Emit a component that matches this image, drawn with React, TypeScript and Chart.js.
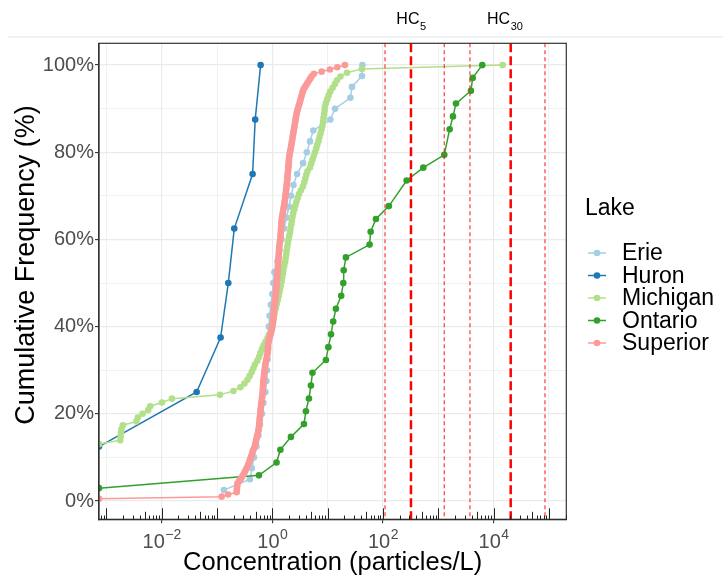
import { useEffect, useRef } from "react";
import { Chart, registerables } from "chart.js";

Chart.register(...registerables);

const FONT = "'Liberation Sans', Arial, Helvetica, sans-serif";

const lakes = ["Erie", "Huron", "Michigan", "Ontario", "Superior"];
const lakeColors = ["#A6CEE3", "#1F78B4", "#B2DF8A", "#33A02C", "#FB9A99"];

// Measured microplastic concentrations per sample (particles/L)
const erie = [
  0.133, 0.393, 0.428, 0.465, 0.516, 0.561, 0.597, 0.649, 0.69, 0.75,
  0.78, 0.8, 0.82, 0.84, 0.855, 0.868, 0.894, 0.94, 1.0, 1.04,
  1.09, 1.24, 1.34, 1.46, 1.62, 1.8, 2.0, 2.18, 2.41, 2.8,
  3.6, 4.2, 4.8, 5.5, 11.2, 13.6, 25.8, 27.5, 41.7, 42.6,
];

const huron = [0.000735, 0.0428, 0.116, 0.16, 0.205, 0.44, 0.49, 0.614];

const michigan = [
  0.000735, 0.000735, 0.000735, 0.000735, 0.000735, 0.000735, 0.000735, 0.000735,
  0.000735, 0.000735, 0.000735, 0.000735, 0.000735, 0.000735, 0.000735,
  0.00178, 0.00181, 0.00184, 0.00187, 0.00199, 0.0035, 0.0037, 0.0045, 0.0057, 0.0062,
  0.0101, 0.0153, 0.113, 0.198, 0.265, 0.313, 0.355, 0.389, 0.424, 0.453,
  0.485, 0.536, 0.573, 0.607, 0.648, 0.693, 0.75, 0.819, 0.875, 0.943,
  0.996, 1.025, 1.051, 1.082, 1.114, 1.162, 1.201, 1.252, 1.295, 1.339,
  1.384, 1.431, 1.473, 1.51, 1.548, 1.587, 1.641, 1.697, 1.74, 1.784,
  1.814, 1.86, 1.907, 1.963, 2.03, 2.09, 2.134, 2.206, 2.262, 2.319,
  2.388, 2.509, 2.617, 2.74, 2.88, 3.027, 3.29, 3.575, 3.774, 3.935,
  4.102, 4.313, 4.785, 5.03, 5.311, 5.607, 5.894, 6.222, 6.487, 6.848,
  7.139, 7.474, 7.76, 8.054, 8.257, 8.432, 8.609, 8.79, 8.939, 9.318,
  9.836, 10.42, 11.1, 12.31, 13.55, 14.73, 17.04, 22.34, 41.72, 14610,
];

const ontario = [
  0.000735, 0.573, 1.19, 1.4, 2.17, 3.73, 4.05, 4.59, 4.99, 5.31,
  9.31, 10.3, 11.5, 12.6, 14.1, 17.6, 19.2, 19.5, 21.4, 57.4,
  59.9, 74.7, 128, 268, 268, 536, 1285, 1607, 1607, 1845,
  2090, 3900, 4190, 6250,
];

const superior = [
  0.000735, 0.121, 0.159, 0.226, 0.228, 0.23, 0.232, 0.234, 0.248, 0.266,
  0.281, 0.298, 0.313, 0.328, 0.342, 0.358, 0.371, 0.384, 0.395, 0.409,
  0.421, 0.433, 0.446, 0.463, 0.48, 0.493, 0.501, 0.512, 0.522, 0.533,
  0.547, 0.558, 0.565, 0.572, 0.58, 0.584, 0.589, 0.594, 0.599, 0.604,
  0.609, 0.614, 0.622, 0.627, 0.635, 0.643, 0.648, 0.657, 0.665, 0.67,
  0.673, 0.676, 0.682, 0.685, 0.69, 0.696, 0.705, 0.711, 0.717, 0.726,
  0.735, 0.744, 0.753, 0.766, 0.782, 0.795, 0.809, 0.822, 0.829, 0.833,
  0.836, 0.843, 0.854, 0.875, 0.898, 0.916, 0.94, 0.963, 0.98, 0.996,
  1.008, 1.025, 1.038, 1.047, 1.051, 1.06, 1.069, 1.073, 1.082, 1.091,
  1.105, 1.124, 1.138, 1.147, 1.157, 1.166, 1.171, 1.181, 1.191, 1.196,
  1.206, 1.216, 1.221, 1.231, 1.236, 1.247, 1.257, 1.263, 1.273, 1.284,
  1.289, 1.3, 1.305, 1.316, 1.322, 1.327, 1.339, 1.355, 1.372, 1.384,
  1.401, 1.413, 1.419, 1.431, 1.437, 1.449, 1.455, 1.467, 1.479, 1.497,
  1.523, 1.542, 1.568, 1.587, 1.614, 1.641, 1.662, 1.69, 1.711, 1.725,
  1.747, 1.762, 1.784, 1.799, 1.822, 1.837, 1.86, 1.867, 1.883, 1.899,
  1.915, 1.931, 1.947, 1.963, 1.971, 1.988, 2.004, 2.021, 2.055, 2.09,
  2.125, 2.161, 2.197, 2.234, 2.262, 2.299, 2.328, 2.367, 2.397, 2.438,
  2.479, 2.52, 2.552, 2.595, 2.638, 2.672, 2.716, 2.762, 2.832, 2.904,
  2.977, 3.065, 3.143, 3.222, 3.304, 3.387, 3.473, 3.56, 3.697, 3.903,
  4.136, 4.367, 4.629, 4.907, 5.201, 5.654, 7.792, 11.01, 14.92, 20.55,
];

const lakeSamples = [erie, huron, michigan, ontario, superior];

// Hazard concentrations (particles/L) with their confidence bounds
const hazardLabels = ["5", "30"];
const hazardValues = [321, 20400];
const hazardLabelShift = [0, -6];
const hazardBounds = [109, 1283, 3740, 85000];

// Axis ticks
const yGridValues = [0, 10, 20, 30, 40, 50, 60, 70, 80, 90, 100];
const xGridExponents = [-3, -2, -1, 0, 1, 2, 3, 4, 5];
const xLabelExponents = [-2, 0, 2, 4];

const X_MIN = 0.000735;
const X_MAX = 206500;
const Y_MIN = -4.2;
const Y_MAX = 105;

const Y_TITLE = "Cumulative Frequency (%)";

// Empirical cumulative distribution: one point per distinct value
function ecdf(values: number[]) {
  const sorted = [...values].sort((a, b) => a - b);
  const n = sorted.length;
  const pts: { x: number; y: number }[] = [];
  for (let i = 0; i < n; i++) {
    if (i < n - 1 && sorted[i + 1] === sorted[i]) continue;
    pts.push({ x: sorted[i], y: ((i + 1) / n) * 100 });
  }
  return pts;
}

const decorations = {
  id: "decorations",
  afterDatasetsDraw(chart: any) {
    const { ctx, chartArea: a, scales } = chart;
    const x = scales.x;
    ctx.save();
    ctx.beginPath();
    ctx.rect(a.left, a.top, a.right - a.left, a.bottom - a.top);
    ctx.clip();
    // confidence bounds
    ctx.strokeStyle = "rgba(255,20,20,0.85)";
    ctx.lineWidth = 1.2;
    ctx.setLineDash([4, 3]);
    for (const v of hazardBounds) {
      const px = x.getPixelForValue(v);
      ctx.beginPath();
      ctx.moveTo(px, a.top);
      ctx.lineTo(px, a.bottom);
      ctx.stroke();
    }
    // hazard concentrations
    ctx.strokeStyle = "#FF0000";
    ctx.lineWidth = 2.5;
    ctx.setLineDash([9, 4]);
    for (const v of hazardValues) {
      const px = x.getPixelForValue(v);
      ctx.beginPath();
      ctx.moveTo(px, a.top);
      ctx.lineTo(px, a.bottom);
      ctx.stroke();
    }
    ctx.restore();
  },
  afterDraw(chart: any) {
    const { ctx, chartArea: a, scales } = chart;
    const x = scales.x;
    ctx.save();

    // faint band along the top of the page
    ctx.fillStyle = "#F1F1F1";
    ctx.fillRect(8, 36, 715, 2);

    // panel border
    ctx.strokeStyle = "#333333";
    ctx.lineWidth = 1.2;
    ctx.strokeRect(a.left, a.top, a.right - a.left, a.bottom - a.top);

    // log ticks along the bottom of the panel
    ctx.strokeStyle = "#222222";
    ctx.lineWidth = 1;
    for (let e = -4; e <= 5; e++) {
      for (let k = 1; k <= 9; k++) {
        const v = k * Math.pow(10, e);
        if (v < X_MIN || v > X_MAX) continue;
        const px = Math.round(x.getPixelForValue(v)) + 0.5;
        const len = k === 1 ? 11 : k === 5 ? 7.5 : 3.8;
        ctx.beginPath();
        ctx.moveTo(px, a.bottom);
        ctx.lineTo(px, a.bottom - len);
        ctx.stroke();
      }
    }

    // x tick labels as powers of ten
    ctx.fillStyle = "#4D4D4D";
    ctx.textBaseline = "alphabetic";
    ctx.textAlign = "left";
    for (const e of xLabelExponents) {
      const px = x.getPixelForValue(Math.pow(10, e));
      const sup = e < 0 ? "\u2212" + Math.abs(e) : String(e);
      ctx.font = `20px ${FONT}`;
      const wb = ctx.measureText("10").width;
      ctx.font = `14px ${FONT}`;
      const we = ctx.measureText(sup).width;
      const start = px - (wb + we) / 2;
      ctx.font = `20px ${FONT}`;
      ctx.fillText("10", start, 548);
      ctx.font = `14px ${FONT}`;
      ctx.fillText(sup, start + wb + 0.5, 538.5);
    }

    // y axis title
    ctx.save();
    ctx.translate(27, 265);
    ctx.rotate(-Math.PI / 2);
    ctx.textAlign = "center";
    ctx.textBaseline = "middle";
    ctx.fillStyle = "#000000";
    ctx.font = `27px ${FONT}`;
    ctx.fillText(Y_TITLE, 0, 0);
    ctx.restore();

    // HC labels above the panel
    ctx.fillStyle = "#000000";
    ctx.textAlign = "left";
    ctx.textBaseline = "alphabetic";
    hazardValues.forEach((v, i) => {
      const px = x.getPixelForValue(v) + hazardLabelShift[i];
      ctx.font = `16px ${FONT}`;
      const wb = ctx.measureText("HC").width;
      ctx.font = `11px ${FONT}`;
      const ws = ctx.measureText(hazardLabels[i]).width;
      const start = px - (wb + ws) / 2;
      ctx.font = `16px ${FONT}`;
      ctx.fillText("HC", start, 23.5);
      ctx.font = `11px ${FONT}`;
      ctx.fillText(hazardLabels[i], start + wb + 0.5, 30);
    });

    // legend
    ctx.textBaseline = "middle";
    ctx.font = `23px ${FONT}`;
    ctx.fillStyle = "#000000";
    ctx.fillText("Lake", 585, 209);
    lakes.forEach((name, i) => {
      const cy = 253 + i * 22.5;
      ctx.strokeStyle = lakeColors[i];
      ctx.lineWidth = 1.5;
      ctx.beginPath();
      ctx.moveTo(588, cy);
      ctx.lineTo(606, cy);
      ctx.stroke();
      ctx.fillStyle = lakeColors[i];
      ctx.beginPath();
      ctx.arc(597, cy, 3.3, 0, Math.PI * 2);
      ctx.fill();
      ctx.fillStyle = "#000000";
      ctx.font = `23px ${FONT}`;
      ctx.fillText(name, 622, cy + 1);
    });

    ctx.restore();
  },
};

export default function App() {
  const canvasRef = useRef<HTMLCanvasElement>(null);

  useEffect(() => {
    document.body.style.margin = "0";
    const canvas = canvasRef.current;
    if (!canvas) return;

    const datasets = lakeSamples.map((values, i) => ({
      label: lakes[i],
      data: ecdf(values),
      showLine: true,
      borderColor: lakeColors[i],
      backgroundColor: lakeColors[i],
      borderWidth: 1.5,
      pointRadius: 3.3,
      pointHoverRadius: 3.3,
      pointBorderWidth: 0,
      tension: 0,
      order: lakes.length - i,
    }));

    const chart = new Chart(canvas, {
      type: "scatter",
      data: { datasets },
      plugins: [decorations],
      options: {
        responsive: false,
        animation: false,
        devicePixelRatio: 1,
        events: [],
        layout: { padding: { top: 43.3, right: 156.7, left: 0, bottom: 0 } },
        plugins: {
          legend: { display: false },
          tooltip: { enabled: false },
        },
        scales: {
          x: {
            type: "logarithmic",
            min: X_MIN,
            max: X_MAX,
            afterBuildTicks: (axis: any) => {
              axis.ticks = xGridExponents.map((e) => ({ value: Math.pow(10, e) }));
            },
            afterFit: (axis: any) => {
              axis.height = 60.7;
            },
            ticks: { display: false },
            grid: {
              color: "#EBEBEB",
              lineWidth: (c: any) =>
                Math.round(Math.log10(c.tick.value)) % 2 === 0 ? 1.2 : 0.7,
              tickColor: (c: any) =>
                Math.round(Math.log10(c.tick.value)) % 2 === 0 ? "#333333" : "rgba(0,0,0,0)",
              tickLength: 4,
              tickWidth: 1.1,
            },
            border: { display: true, color: "#000000", width: 1.2 },
            title: {
              display: true,
              text: "Concentration (particles/L)",
              color: "#000000",
              font: { family: FONT, size: 25.5 },
              padding: { top: 0, bottom: 2 },
            },
          },
          y: {
            type: "linear",
            min: Y_MIN,
            max: Y_MAX,
            afterBuildTicks: (axis: any) => {
              axis.ticks = yGridValues.map((v) => ({ value: v }));
            },
            afterFit: (axis: any) => {
              axis.width = 99;
            },
            ticks: {
              color: "#4D4D4D",
              font: { family: FONT, size: 20 },
              padding: 1,
              callback: (v: any) => (Number(v) % 20 === 0 ? `${v}%` : ""),
            },
            grid: {
              color: "#EBEBEB",
              lineWidth: (c: any) => (c.tick.value % 20 === 0 ? 1.2 : 0.7),
              tickColor: (c: any) => (c.tick.value % 20 === 0 ? "#333333" : "rgba(0,0,0,0)"),
              tickLength: 4,
              tickWidth: 1.1,
            },
            border: { display: true, color: "#333333", width: 1.2 },
            title: { display: false },
          },
        },
      } as any,
    });

    return () => chart.destroy();
  }, []);

  return (
    <div style={{ position: "relative", width: 723, height: 580, background: "#ffffff" }}>
      <canvas ref={canvasRef} width={723} height={580} style={{ display: "block" }} />
    </div>
  );
}
